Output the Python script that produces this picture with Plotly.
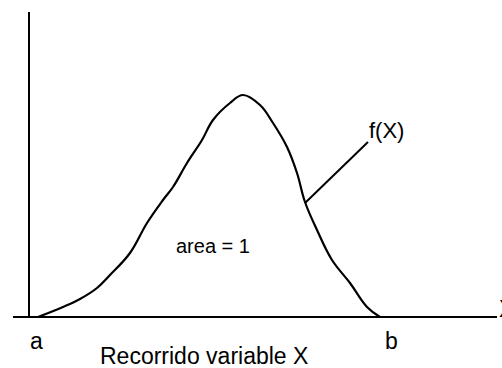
import plotly.graph_objects as go

# Curve of the density f(X) (x in variable units, f in density units)
x_vals = [0.9, 3.4, 5.1, 6.8, 8.1, 10.1, 11.8, 13.4, 14.4, 15.8, 17.3, 18.4,
          20.1, 21.4, 23.1, 24.4, 25.8, 26.8, 27.6, 28.8, 30.3, 32.1, 33.8, 35.1]
f_vals = [0.0, 1.0, 1.8, 2.9, 4.2, 6.4, 9.4, 11.7, 13.0, 15.4, 17.7, 19.7,
          21.4, 22.2, 21.2, 19.4, 17.0, 14.4, 11.5, 8.7, 5.7, 3.4, 1.0, 0.0]

labels = ["a", "b", "Recorrido variable X", "area = 1", "f(X)", "X"]

FONT = "Liberation Sans, Arial, sans-serif"

fig = go.Figure()
fig.add_trace(go.Scatter(
    x=x_vals, y=f_vals, mode="lines",
    line=dict(color="black", width=2.2, shape="spline", smoothing=1.1),
    hoverinfo="skip", showlegend=False))

shapes = [
    # vertical axis
    dict(type="line", xref="x", yref="y", x0=0, x1=0, y0=0, y1=30.5,
         line=dict(color="black", width=2)),
    # horizontal axis
    dict(type="line", xref="x", yref="y", x0=-1.6, x1=46.8, y0=0, y1=0,
         line=dict(color="black", width=2)),
    # pointer to f(X)
    dict(type="line", xref="x", yref="y", x0=27.6, y0=11.4, x1=33.9, y1=17.5,
         line=dict(color="black", width=2)),
]

ann_pos = [
    (0.7, -2.4, "center", 23),
    (36.2, -2.4, "center", 23),
    (17.5, -3.9, "center", 23),
    (18.35, 7.1, "center", 20),
    (35.75, 18.7, "center", 22),
    (46.8, 0.8, "left", 23),
]
annotations = []
for lab, (ax, ay, xa, fs) in zip(labels, ann_pos):
    annotations.append(dict(
        x=ax, y=ay, xref="x", yref="y", text=lab, showarrow=False,
        xanchor=xa, yanchor="middle",
        font=dict(family=FONT, size=fs, color="black")))

fig.update_layout(
    width=502, height=368,
    margin=dict(l=0, r=0, t=0, b=0),
    paper_bgcolor="white", plot_bgcolor="white",
    xaxis=dict(range=[-2.9, 47.3], visible=False, fixedrange=True),
    yaxis=dict(range=[-5.1, 31.7], visible=False, fixedrange=True),
    shapes=shapes, annotations=annotations,
    showlegend=False,
)

fig.write_html(
    "out.html",
    config={"displayModeBar": False},
    post_script="document.body.style.margin='0';document.body.style.padding='0';"
                "document.body.style.overflow='hidden';",
)
